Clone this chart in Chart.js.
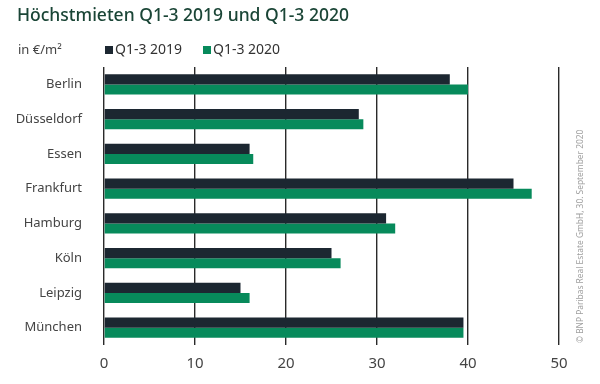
<!DOCTYPE html>
<html>
<head>
<meta charset="utf-8">
<script src="https://cdn.jsdelivr.net/npm/chart.js@4"></script>
<style>
html,body{margin:0;padding:0;background:#fff;}
#wrap{width:600px;height:384px;position:relative;}
</style>
</head>
<body>
<div id="wrap"><canvas id="c" width="600" height="384"></canvas></div>
<script>
const titleText = "Höchstmieten Q1-3 2019 und Q1-3 2020";
const unitText = "in €/m²";
const sourceText = "© BNP Paribas Real Estate GmbH, 30. September 2020";
const cities = ["Berlin", "Düsseldorf", "Essen", "Frankfurt", "Hamburg", "Köln", "Leipzig", "München"];
const seriesNames = ["Q1-3 2019", "Q1-3 2020"];
const values2019 = [38, 28, 16, 45, 31, 25, 15, 39.5];
const values2020 = [40, 28.5, 16.4, 47, 32, 26, 16, 39.5];
const xTicks = [0, 10, 20, 30, 40, 50];

const colDark = "#1c2731";
const colGreen = "#078a5b";
const FONT = "'Noto Sans', 'Open Sans', sans-serif";

const decor = {
  id: "decor",
  afterDraw(chart) {
    const ctx = chart.ctx;
    ctx.save();
    ctx.textBaseline = "middle";
    ctx.textAlign = "left";
    ctx.fillStyle = "#1a4536";
    ctx.font = "500 17.5px " + FONT;
    ctx.fillText(titleText, 17, 16);
    ctx.fillStyle = "#444";
    ctx.font = "13px " + FONT;
    ctx.fillText(unitText, 18, 50);
    // legend
    const items = [[seriesNames[0], colDark, 105], [seriesNames[1], colGreen, 203]];
    ctx.font = "14px " + FONT;
    items.forEach(([t, c, x]) => {
      ctx.fillStyle = c;
      ctx.fillRect(x, 46, 8, 8);
      ctx.fillStyle = "#333";
      ctx.fillText(t, x + 10, 50);
    });
    // rotated source
    ctx.translate(581, 343);
    ctx.rotate(-Math.PI / 2);
    ctx.fillStyle = "#a0a0a0";
    ctx.font = "8.4px " + FONT;
    ctx.textAlign = "left";
    ctx.fillText(sourceText, 0, 0);
    ctx.restore();
  }
};

new Chart(document.getElementById("c"), {
  type: "bar",
  data: {
    labels: cities,
    datasets: [
      { label: seriesNames[0], data: values2019, backgroundColor: colDark, barPercentage: 1, categoryPercentage: 0.58 },
      { label: seriesNames[1], data: values2020, backgroundColor: colGreen, barPercentage: 1, categoryPercentage: 0.58 }
    ]
  },
  options: {
    indexAxis: "y",
    responsive: false,
    animation: false,
    layout: { padding: { top: 67, right: 41, left: 0, bottom: 0 } },
    plugins: { legend: { display: false }, title: { display: false }, tooltip: { enabled: false } },
    scales: {
      x: {
        min: 0, max: 50,
        afterBuildTicks(axis) { axis.ticks = xTicks.map(v => ({ value: v })); },
        afterFit(axis) { axis.height = 39; },
        grid: { color: "#2a2a2a", lineWidth: 1.4, tickLength: 0, drawTicks: false },
        border: { display: false },
        ticks: { color: "#444", font: { family: FONT, size: 15 }, padding: 10 }
      },
      y: {
        afterFit(axis) { axis.width = 104; },
        grid: { display: false },
        border: { display: false },
        ticks: { color: "#444", font: { family: FONT, size: 13 }, padding: 14 }
      }
    }
  },
  plugins: [decor]
});
</script>
</body>
</html>
